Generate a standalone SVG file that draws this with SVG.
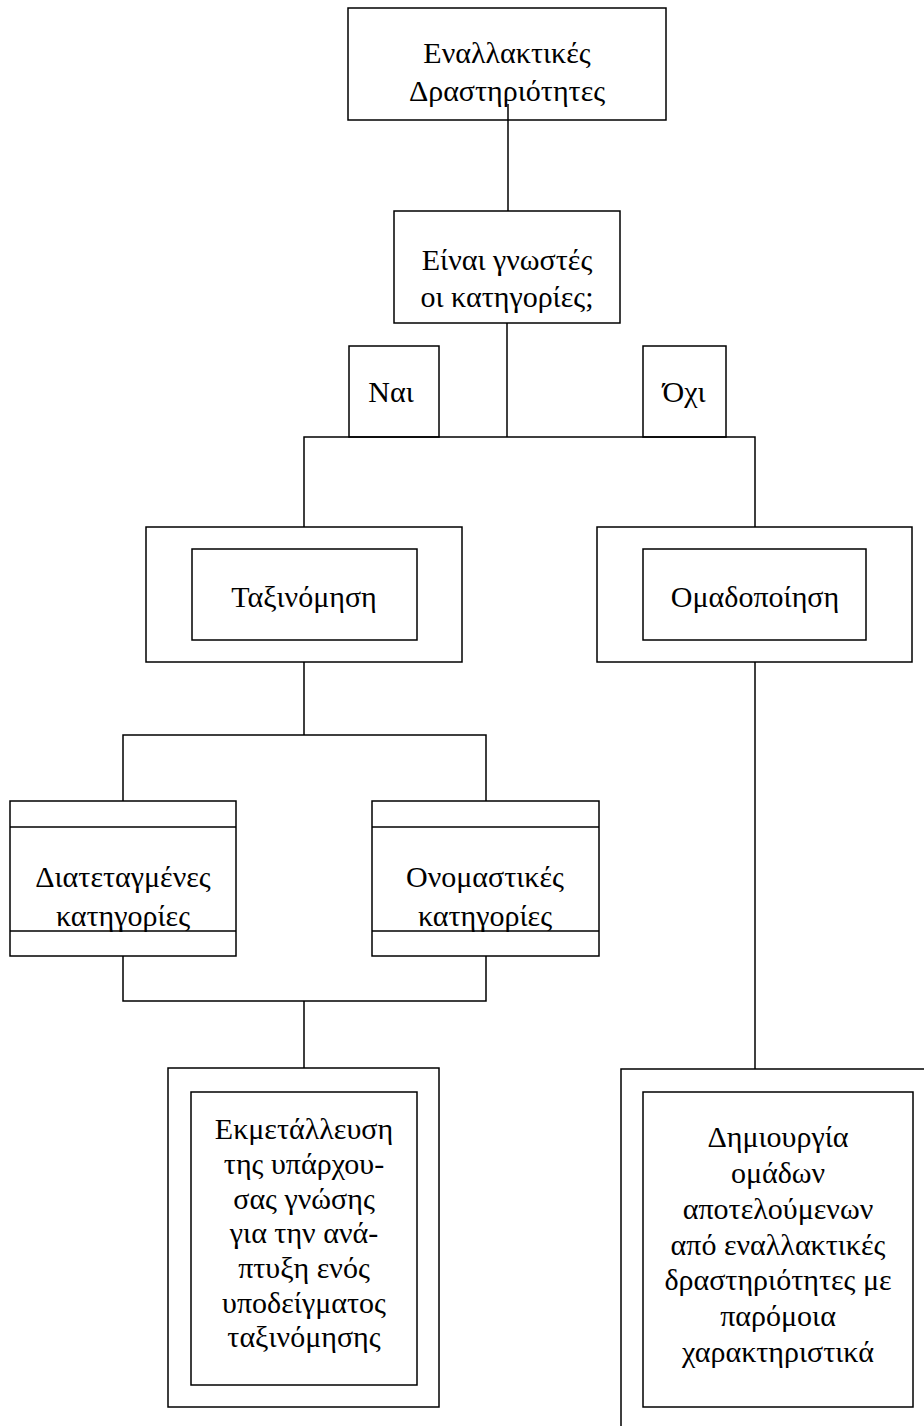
<svg xmlns="http://www.w3.org/2000/svg" width="924" height="1426" viewBox="0 0 924 1426">
<style>
.b{fill:#fff;stroke:#000;stroke-width:1.5}
.l{fill:none;stroke:#000;stroke-width:1.5}
text{font-family:"Liberation Serif","Times New Roman",serif;font-size:30px;fill:#000;text-anchor:middle}
</style>
<rect width="924" height="1426" fill="#fff"/>
<g id="n-top">
<rect class="b" x="348" y="8" width="318" height="112"/>
<text x="507" y="63">Εναλλακτικές</text>
<text x="507" y="101">Δραστηριότητες</text>
</g>
<g id="n-question">
<rect class="b" x="394" y="211" width="226" height="112"/>
<text x="507" y="270">Είναι γνωστές</text>
<text x="507" y="307">οι κατηγορίες;</text>
</g>
<g id="n-nai">
<rect class="b" x="349" y="346" width="90" height="91"/>
<text x="391" y="402">Ναι</text>
</g>
<g id="n-oxi">
<rect class="b" x="643" y="346" width="83" height="91"/>
<text x="684" y="402">Όχι</text>
</g>
<g id="n-taxinomisi">
<rect class="b" x="146" y="527" width="316" height="135"/>
<rect class="b" x="192" y="549" width="225" height="91"/>
<text x="304" y="607">Ταξινόμηση</text>
</g>
<g id="n-omadopoiisi">
<rect class="b" x="597" y="527" width="315" height="135"/>
<rect class="b" x="643" y="549" width="223" height="91"/>
<text x="755" y="607">Ομαδοποίηση</text>
</g>
<g id="n-diatetagmenes">
<rect class="b" x="10" y="801" width="226" height="155"/>
<line class="l" x1="10" y1="827" x2="236" y2="827"/>
<text x="123" y="887">Διατεταγμένες</text>
<text x="123" y="926">κατηγορίες</text>
<line class="l" x1="10" y1="931" x2="236" y2="931"/>
</g>
<g id="n-onomastikes">
<rect class="b" x="372" y="801" width="227" height="155"/>
<line class="l" x1="372" y1="827" x2="599" y2="827"/>
<text x="485" y="887">Ονομαστικές</text>
<text x="485" y="926">κατηγορίες</text>
<line class="l" x1="372" y1="931" x2="599" y2="931"/>
</g>
<g id="n-ekmetalleusi">
<rect class="b" x="168" y="1068" width="271" height="339"/>
<rect class="b" x="191" y="1092" width="226" height="293"/>
<text x="304" y="1139">Εκμετάλλευση</text>
<text x="304" y="1174">της υπάρχου-</text>
<text x="304" y="1209">σας γνώσης</text>
<text x="304" y="1243">για την ανά-</text>
<text x="304" y="1278">πτυξη ενός</text>
<text x="304" y="1313">υποδείγματος</text>
<text x="304" y="1347">ταξινόμησης</text>
</g>
<g id="n-dimiourgia">
<rect class="b" x="621" y="1069" width="400" height="500"/>
<rect class="b" x="643" y="1092" width="270" height="315"/>
<text x="778" y="1147">Δημιουργία</text>
<text x="778" y="1183">ομάδων</text>
<text x="778" y="1219">αποτελούμενων</text>
<text x="778" y="1255">από εναλλακτικές</text>
<text x="778" y="1290">δραστηριότητες με</text>
<text x="778" y="1326">παρόμοια</text>
<text x="778" y="1362">χαρακτηριστικά</text>
</g>
<g id="connectors">
<line class="l" x1="508" y1="104" x2="508" y2="211"/>
<line class="l" x1="507" y1="323" x2="507" y2="437"/>
<path class="l" d="M304 527 V437 H755 V527"/>
<path class="l" d="M755 662 V1069"/>
<path class="l" d="M304 662 V735 M123 801 V735 H486 V801"/>
<path class="l" d="M123 956 V1001 H486 V956 M304 1001 V1068"/>
</g>
</svg>
